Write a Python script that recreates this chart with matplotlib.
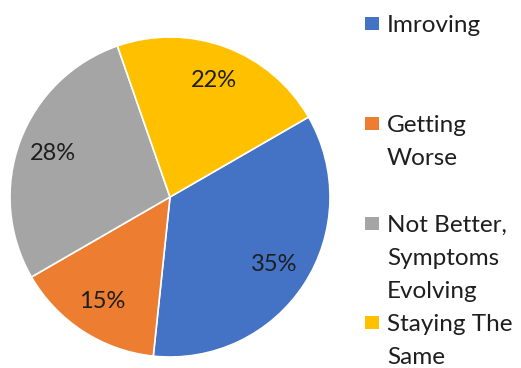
import matplotlib
matplotlib.use("Agg")
import matplotlib.pyplot as plt
from matplotlib.patches import Rectangle

categories = ["Imroving", "Getting\nWorse", "Not Better,\nSymptoms\nEvolving", "Staying The\nSame"]
shares = [35, 15, 28, 22]
colors = ["#4472C4", "#ED7D31", "#A5A5A5", "#FFC000"]

plt.rcParams["font.family"] = ["Lato", "DejaVu Sans"]
text_color = "#1e1e1e"

W, H = 521, 368
fig = plt.figure(figsize=(W / 100, H / 100), dpi=100)

# pie area: centre (170, 197) px from top-left, radius 160 px
cx, cy, r = 170, 197, 160
ax = fig.add_axes([(cx - r) / W, (H - cy - r) / H, 2 * r / W, 2 * r / H])
wedges, texts, autotexts = ax.pie(
    shares, colors=colors, startangle=30, counterclock=False,
    autopct="%d%%", pctdistance=0.78,
    wedgeprops=dict(edgecolor="white", linewidth=1.2),
    textprops=dict(fontsize=17, color=text_color),
)
ax.set_xlim(-1, 1)
ax.set_ylim(-1, 1)
ax.set_aspect("equal")

# legend on the right: one slot per category, first-line baselines in px from top
baselines = [32, 132, 232, 331]
line_step = 33
for label, col, base in zip(categories, colors, baselines):
    for i, line in enumerate(label.split("\n")):
        y = base + i * line_step
        fig.text(387 / W, 1 - y / H, line, fontsize=17.5, color=text_color,
                 va="baseline", ha="left")
    fig.patches.append(Rectangle((365 / W, 1 - (base - 2) / H), 14 / W, 13 / H,
                                 transform=fig.transFigure, facecolor=col,
                                 edgecolor="none"))

fig.savefig("out.png", dpi=100)
